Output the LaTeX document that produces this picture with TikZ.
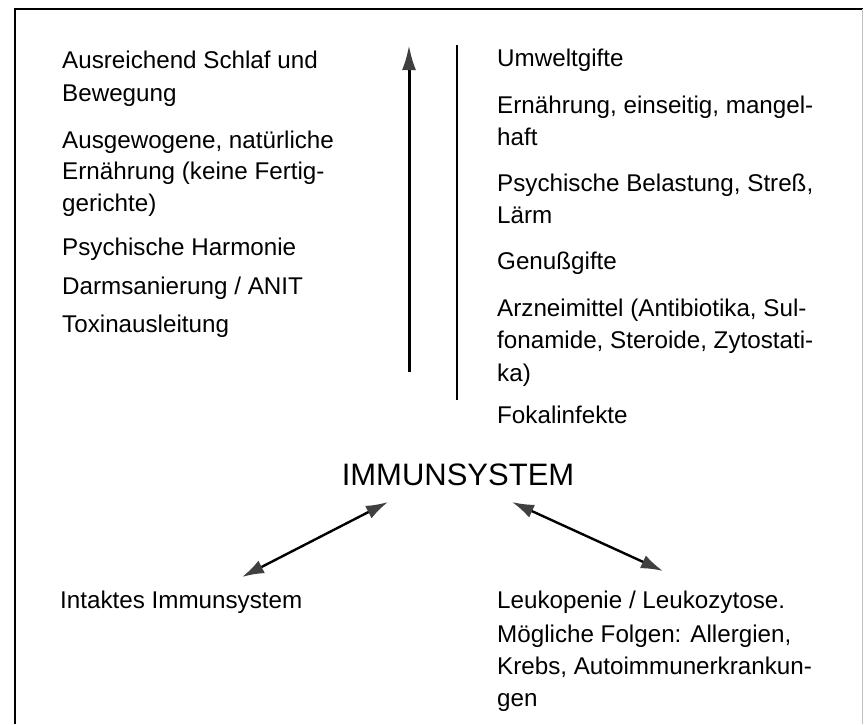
\documentclass[tikz,border=0pt]{standalone}
\usepackage{fontspec}
\setmainfont{Liberation Sans}
\usetikzlibrary{arrows.meta}
\begin{document}
\begin{tikzpicture}[x=1pt,y=-1pt,
  txt/.style={anchor=base west, inner sep=0pt, font=\fontsize{24.2}{32}\selectfont},
  title/.style={anchor=base, inner sep=0pt, font=\fontsize{31}{36}\selectfont},
  frameline/.style={line width=2pt, black},
  uparrow/.style={line width=3pt, -{Latex[length=25pt,width=14pt,color=black!75]}},
  dblarrow/.style={line width=2.4pt, {Latex[length=22pt,width=14pt,color=black!75]}-{Latex[length=22pt,width=14pt,color=black!75]}}]
\useasboundingbox (0,0) rectangle (865,724);
% frame
\draw[frameline] (15,724) -- (15,9) -- (863,9);
\draw[line width=1pt, black!25] (862,9) -- (862,724);
% left column
\node[txt] (l1a) at (62,68) {Ausreichend Schlaf und};
\node[txt] (l1b) at (62,101) {Bewegung};
\node[txt] (l2a) at (62,148) {Ausgewogene, natürliche};
\node[txt] (l2b) at (62,179) {Ernährung (keine Fertig-};
\node[txt] (l2c) at (62,211) {gerichte)};
\node[txt] (l3) at (62,255) {Psychische Harmonie};
\node[txt] (l4) at (62,294) {Darmsanierung / ANIT};
\node[txt] (l5) at (62,332) {Toxinausleitung};
% right column
\node[txt] (r1) at (497,66) {Umweltgifte};
\node[txt] (r2a) at (497,113) {Ernährung, einseitig, mangel-};
\node[txt] (r2b) at (497,145) {haft};
\node[txt] (r3a) at (497,191) {Psychische Belastung, Streß,};
\node[txt] (r3b) at (497,223) {Lärm};
\node[txt] (r4) at (497,269) {Genußgifte};
\node[txt] (r5a) at (497,316) {Arzneimittel (Antibiotika, Sul-};
\node[txt] (r5b) at (497,348) {fonamide, Steroide, Zytostati-};
\node[txt] (r5c) at (497,381) {ka)};
\node[txt] (r6) at (497,423) {Fokalinfekte};
% center
\node[title] (imm) at (458,485) {IMMUNSYSTEM};
% bottom
\node[txt] (b1) at (60,608) {Intaktes Immunsystem};
\node[txt] (b2a) at (497,608) {Leukopenie / Leukozytose.};
\node[txt] (b2b) at (497,642) {Mögliche Folgen: Allergien,};
\node[txt] (b2c) at (497,674) {Krebs, Autoimmunerkrankun-};
\node[txt] (b2d) at (497,706) {gen};
% arrows
\coordinate (upS) at (409,372);
\coordinate (upE) at (409,45);
\coordinate (lnS) at (457,45);
\coordinate (lnE) at (457,400);
\coordinate (la) at (388,502);
\coordinate (lb) at (242,577);
\coordinate (ra) at (512,502);
\coordinate (rb) at (663,571);
\draw[uparrow] (upS) -- (upE);
\draw[line width=2.6pt] (lnS) -- (lnE);
\draw[dblarrow] (la) -- (lb);
\draw[dblarrow] (ra) -- (rb);
\end{tikzpicture}
\end{document}
